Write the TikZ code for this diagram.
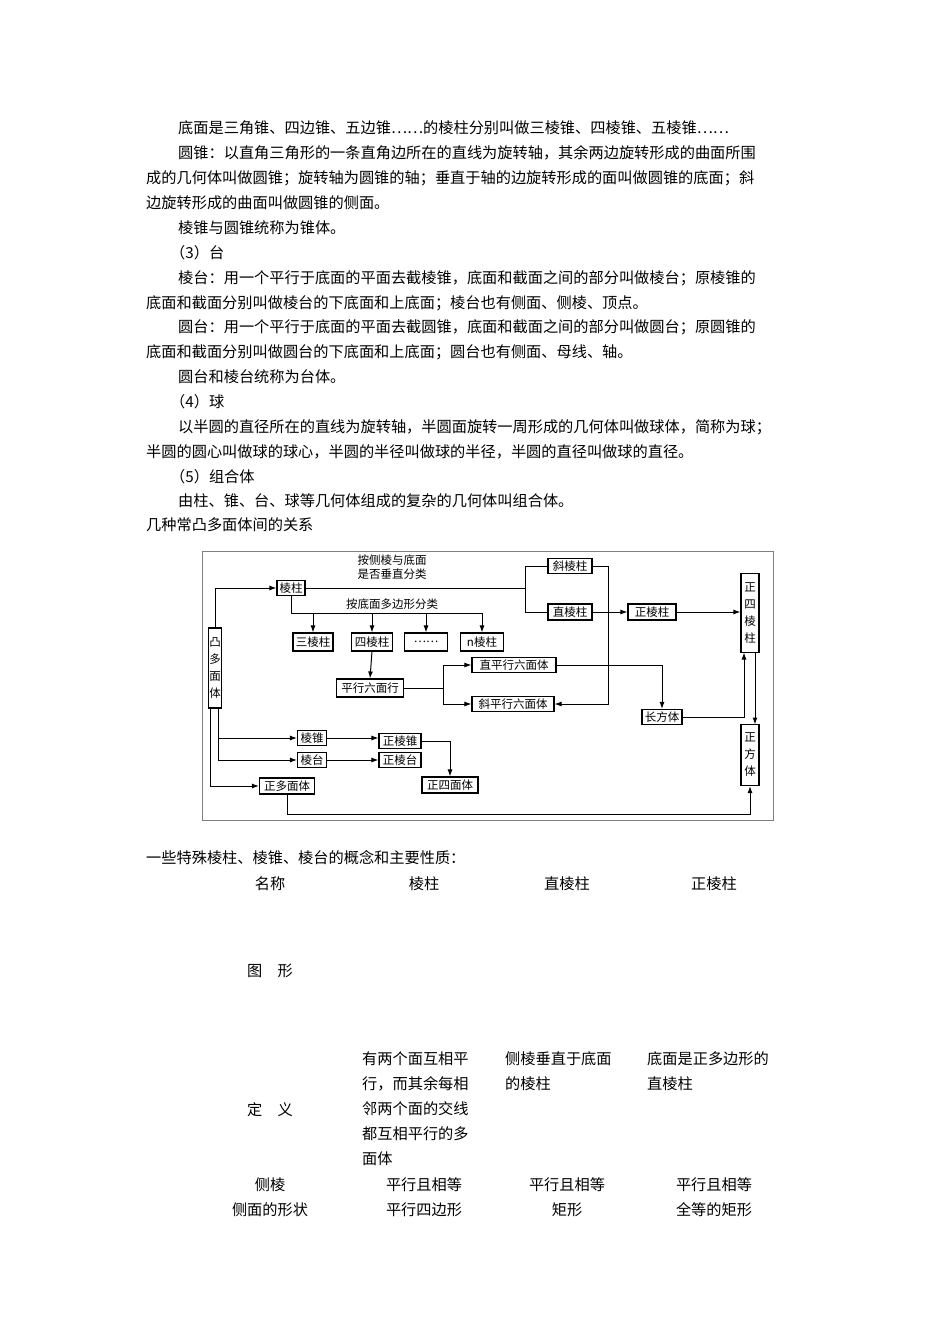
\documentclass[tikz,border=0pt]{standalone}
\usepackage{fontspec}
\setmainfont{Noto Sans CJK SC}
\usetikzlibrary{arrows.meta}
\begin{document}
\begin{tikzpicture}[x=1pt,y=-1pt,
 txt/.style={anchor=west,inner sep=0,font=\fontsize{15.2}{18}\selectfont},
 ctx/.style={inner sep=0,font=\fontsize{15.2}{18}\selectfont},
 bx/.style={draw,line width=1.1pt,inner sep=0,font=\fontsize{11.5}{13}\selectfont},
 vb/.style={bx,align=center,font=\fontsize{11.5}{17}\selectfont},
 lab/.style={inner sep=0,font=\fontsize{11.5}{14.5}\selectfont,align=center},
 ln/.style={line width=1pt},
 ar/.style={line width=1pt,-{Latex[length=7pt,width=5pt]}}]
\useasboundingbox (0,0) rectangle (950,1344);
% body text
\node[txt] at (178,128) {底面是三角锥、四边锥、五边锥……的棱柱分别叫做三棱锥、四棱锥、五棱锥……};
\node[txt] at (178,153) {圆锥：以直角三角形的一条直角边所在的直线为旋转轴，其余两边旋转形成的曲面所围};
\node[txt] at (146,178) {成的几何体叫做圆锥；旋转轴为圆锥的轴；垂直于轴的边旋转形成的面叫做圆锥的底面；斜};
\node[txt] at (146,203) {边旋转形成的曲面叫做圆锥的侧面。};
\node[txt] at (178,228) {棱锥与圆锥统称为锥体。};
\node[txt] at (170,253) {（3）台};
\node[txt] at (178,278) {棱台：用一个平行于底面的平面去截棱锥，底面和截面之间的部分叫做棱台；原棱锥的};
\node[txt] at (146,303) {底面和截面分别叫做棱台的下底面和上底面；棱台也有侧面、侧棱、顶点。};
\node[txt] at (178,327) {圆台：用一个平行于底面的平面去截圆锥，底面和截面之间的部分叫做圆台；原圆锥的};
\node[txt] at (146,352) {底面和截面分别叫做圆台的下底面和上底面；圆台也有侧面、母线、轴。};
\node[txt] at (178,377) {圆台和棱台统称为台体。};
\node[txt] at (170,402) {（4）球};
\node[txt] at (178,427) {以半圆的直径所在的直线为旋转轴，半圆面旋转一周形成的几何体叫做球体，简称为球；};
\node[txt] at (146,452) {半圆的圆心叫做球的球心，半圆的半径叫做球的半径，半圆的直径叫做球的直径。};
\node[txt] at (170,477) {（5）组合体};
\node[txt] at (178,501) {由柱、锥、台、球等几何体组成的复杂的几何体叫组合体。};
\node[txt] at (146,525) {几种常凸多面体间的关系};
% diagram frame
\draw[gray,line width=0.8pt] (202,551) rectangle (773,820);
% boxes
\node[vb,minimum width=13pt,minimum height=80pt] (tu) at (215,668) {凸\\多\\面\\体};
\node[bx,minimum width=28pt,minimum height=15pt] (lz) at (291,588) {棱柱};
\node[lab] (t1) at (392,567) {按侧棱与底面\\是否垂直分类};
\node[lab] (t2) at (392,604) {按底面多边形分类};
\node[bx,minimum width=40pt,minimum height=18pt] (s3) at (313,642) {三棱柱};
\node[bx,minimum width=41pt,minimum height=18pt] (s4) at (372,642) {四棱柱};
\node[bx,minimum width=43pt,minimum height=18pt] (sd) at (426,642) {……};
\node[bx,minimum width=43pt,minimum height=18pt] (sn) at (482,642) {n棱柱};
\node[bx,minimum width=67pt,minimum height=18pt] (px) at (370,688) {平行六面行};
\node[bx,minimum width=84pt,minimum height=15pt] (zp) at (514,665) {直平行六面体};
\node[bx,minimum width=82pt,minimum height=15pt] (xp) at (513,704) {斜平行六面体};
\node[bx,minimum width=44pt,minimum height=15pt] (xl) at (570,566) {斜棱柱};
\node[bx,minimum width=44pt,minimum height=16pt] (zl) at (570,612) {直棱柱};
\node[bx,minimum width=48pt,minimum height=16pt] (zz) at (652,612) {正棱柱};
\node[vb,minimum width=18pt,minimum height=79pt] (z4) at (750,613) {正\\四\\棱\\柱};
\node[bx,minimum width=40pt,minimum height=15pt] (cf) at (662,717) {长方体};
\node[vb,minimum width=18pt,minimum height=61pt] (zf) at (750,755) {正\\方\\体};
\node[bx,minimum width=29pt,minimum height=15pt] (lzh) at (312,738) {棱锥};
\node[bx,minimum width=29pt,minimum height=15pt] (lt) at (312,760) {棱台};
\node[bx,minimum width=42pt,minimum height=15pt] (zlz) at (400,741) {正棱锥};
\node[bx,minimum width=42pt,minimum height=15pt] (zlt) at (400,760) {正棱台};
\node[bx,minimum width=55pt,minimum height=16pt] (zd) at (287,786) {正多面体};
\node[bx,minimum width=56pt,minimum height=16pt] (z4m) at (450,785) {正四面体};
% connectors
\draw[ar] (215,628) |- (lz.west);
\draw[ln] (lz.east) -- (525,588);
\draw[ln] (xl.west) -| (525,612) -- (zl.west);
\draw[ln] (lz.south) |- (483,613);
\foreach \n/\x in {s3/313,s4/372,sd/426,sn/482} \draw[ar] (\x,613) -- (\n.north);
\draw[ar] (s4.south) -- (px.north);
\draw[ln] (px.east) -- (443,688);
\draw[ar] (443,665) |- (zp.west);
\draw[ar] (443,665) |- (xp.west);
\draw[ar] (xl.east) -| (608,704) -- (xp.east);
\draw[ar] (zl.east) -- (zz.west);
\draw[ar] (zz.east) -- (z4.west |- zz.east);
\draw[ar] (zp.east) -| (cf.north);
\draw[ar] (cf.east) -| (744,652.5);
\draw[ar] (755,652.5) -- (755,724.5);
\draw[ar] (zd.south) |- (750,814) -- (zf.south);
\draw[ar] (210,708) |- (zd.west);
\draw[ln] (218,708) -- (218,760);
\draw[ar] (218,738) -- (lzh.west);
\draw[ar] (218,760) -- (lt.west);
\draw[ar] (lzh.east) -- (zlz.west |- lzh.east);
\draw[ar] (lt.east) -- (zlt.west);
\draw[ar] (zlz.east) -| (z4m.north);
% table
\node[txt] at (146,858) {一些特殊棱柱、棱锥、棱台的概念和主要性质：};
\foreach \x/\t in {270/名称,424/棱柱,567/直棱柱,714/正棱柱} \node[ctx] at (\x,884) {\t};
\node[ctx] at (270,971) {图\quad 形};
\node[ctx] at (270,1110) {定\quad 义};
\node[txt] at (362,1059) {有两个面互相平};
\node[txt] at (362,1084) {行，而其余每相};
\node[txt] at (362,1109) {邻两个面的交线};
\node[txt] at (362,1134) {都互相平行的多};
\node[txt] at (362,1159) {面体};
\node[txt] at (505,1059) {侧棱垂直于底面};
\node[txt] at (505,1084) {的棱柱};
\node[txt] at (647,1059) {底面是正多边形的};
\node[txt] at (647,1084) {直棱柱};
\foreach \x/\t in {270/侧棱,424/平行且相等,567/平行且相等,714/平行且相等} \node[ctx] at (\x,1185) {\t};
\foreach \x/\t in {270/侧面的形状,424/平行四边形,567/矩形,714/全等的矩形} \node[ctx] at (\x,1210) {\t};
\end{tikzpicture}
\end{document}
